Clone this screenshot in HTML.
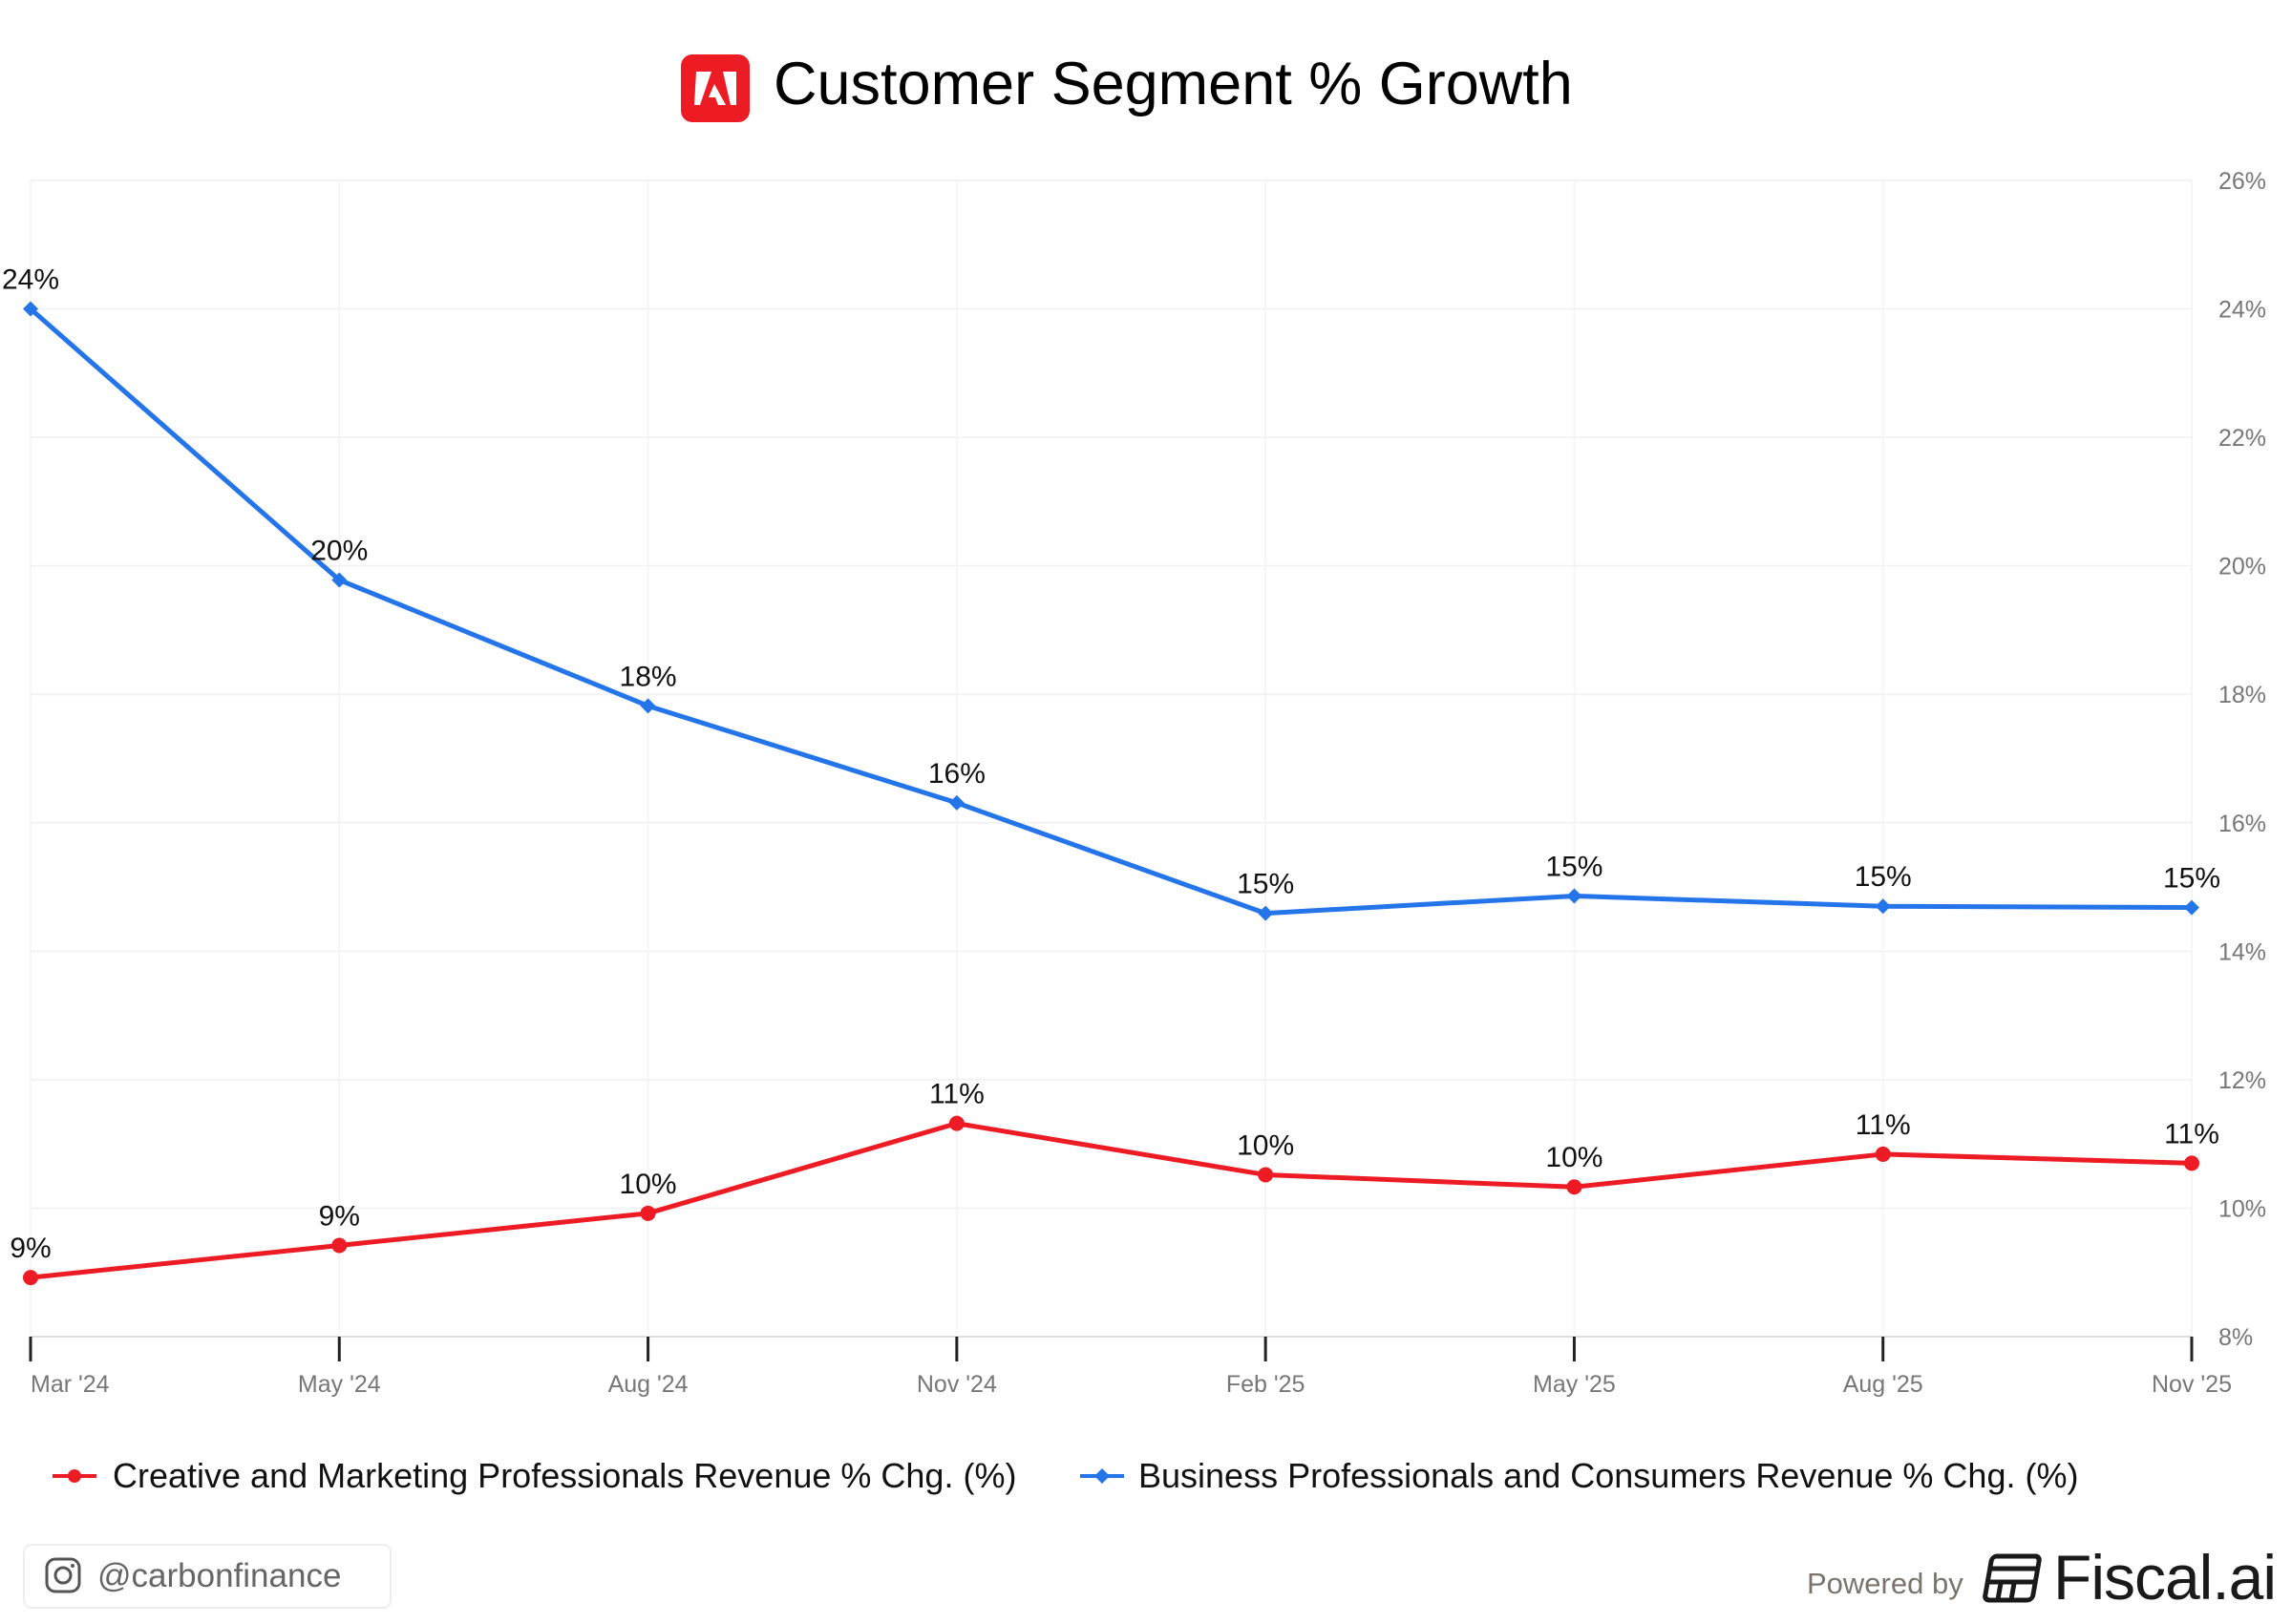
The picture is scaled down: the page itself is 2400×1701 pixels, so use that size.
<!DOCTYPE html>
<html><head><meta charset="utf-8"><style>
html,body{margin:0;padding:0;background:#fff;width:2400px;height:1701px;overflow:hidden;font-family:"Liberation Sans",sans-serif}
</style></head><body>
<svg id="chart" width="2400" height="1701" viewBox="0 0 2400 1701" xmlns="http://www.w3.org/2000/svg">
<g>
<rect x="713" y="57" width="72" height="71" rx="12" fill="#ED1C24"/>
<polygon points="729,75 745,75 733,110 727,110" fill="#fff"/>
<polygon points="757,75 771,75 771,110 765,110" fill="#fff"/>
<polygon points="748,88 760,110 752,110 749,102 742,102" fill="#fff"/>
<text x="810" y="109" font-size="63" fill="#000">Customer Segment % Growth</text>
</g>
<g id="grid"></g><g id="yaxis"></g><g id="xaxis"></g><g id="series"></g>
<g>
<g>
<line x1="55" y1="1546" x2="101" y2="1546" stroke="#ED1C24" stroke-width="4"/><circle cx="78" cy="1546" r="7" fill="#ED1C24"/>
<text x="118" y="1558" font-size="36" fill="#111">Creative and Marketing Professionals Revenue % Chg. (%)</text></g>
<g>
<line x1="1131" y1="1546" x2="1177" y2="1546" stroke="#2474EA" stroke-width="4"/><polygon points="1154,1538 1162,1546 1154,1554 1146,1546" fill="#2474EA"/>
<text x="1192" y="1558" font-size="36" fill="#111">Business Professionals and Consumers Revenue % Chg. (%)</text></g>
</g>
<g>
<rect x="25" y="1618" width="384" height="66" rx="8" fill="#fff" stroke="#eee" stroke-width="2"/>
<rect x="49" y="1633" width="34" height="34" rx="9" fill="none" stroke="#555" stroke-width="3"/>
<circle cx="66" cy="1650" r="8" fill="none" stroke="#555" stroke-width="3"/><circle cx="76" cy="1640" r="2" fill="#555"/>
<text x="102" y="1662" font-size="35" fill="#666">@carbonfinance</text></g>
<g>
<text x="1892" y="1669" font-size="31" fill="#7a746c">Powered by</text>
<g transform="translate(2078,1630) skewX(-10)" fill="none" stroke="#1a1a1a" stroke-width="5">
<rect x="8" y="0" width="50" height="46" rx="5"/>
<line x1="8" y1="13" x2="58" y2="13"/><line x1="8" y1="27" x2="58" y2="27"/>
<line x1="22" y1="27" x2="22" y2="46"/><line x1="36" y1="27" x2="36" y2="46"/>
</g>
<text x="2150" y="1675" font-size="66" fill="#1a1a1a" letter-spacing="-1">Fiscal.ai</text></g>
</svg>
<script>
const categories=["Mar '24","May '24","Aug '24","Nov '24","Feb '25","May '25","Aug '25","Nov '25"];
const creative=[8.92,9.42,9.92,11.32,10.52,10.33,10.84,10.70];
const business=[24.0,19.78,17.82,16.31,14.59,14.86,14.70,14.68];
const creativeLabels=["9%","9%","10%","11%","10%","10%","11%","11%"];
const businessLabels=["24%","20%","18%","16%","15%","15%","15%","15%"];
const yTicks=[8,10,12,14,16,18,20,22,24,26];
const NS="http://www.w3.org/2000/svg";
const X0=32,X1=2295,YT=189,YB=1400,YMIN=8,YMAX=26;
const xs=i=>X0+(X1-X0)*i/(categories.length-1);
const ys=v=>YB-(v-YMIN)/(YMAX-YMIN)*(YB-YT);
function mk(tag,attrs,parent){const e=document.createElementNS(NS,tag);for(const k in attrs)e.setAttribute(k,attrs[k]);parent.appendChild(e);return e;}
const grid=document.getElementById('grid'),ya=document.getElementById('yaxis'),xa=document.getElementById('xaxis'),se=document.getElementById('series');
yTicks.forEach(t=>{
const l=mk('line',{x1:X0,x2:X1,y1:ys(t),y2:ys(t),stroke:t===YMIN?'#ddd':'#f3f3f3','stroke-width':2},grid);


const tx=mk('text',{x:2323,y:ys(t)+9,'font-size':25,fill:'#777'},ya);tx.textContent=t+'%';


});
categories.forEach((c,i)=>{
const x=xs(i);
const g=mk('line',{x1:x,x2:x,y1:YT,y2:YB,stroke:'#f5f5f5','stroke-width':2},grid);


const tk=mk('line',{x1:x,x2:x,y1:YB,y2:YB+26,stroke:'#222','stroke-width':3},xa);


const anchor=i===0?'start':'middle';
const tx=mk('text',{x:x,y:1458,'font-size':25,fill:'#777','text-anchor':anchor},xa);
tx.textContent=c;


});
function series(vals,labels,color,name,diamond){
const g=mk('g',{},se);


const p=mk('polyline',{points:vals.map((v,i)=>xs(i)+','+ys(v)).join(' '),fill:'none',stroke:color,'stroke-width':5,'stroke-linejoin':'round'},g);


vals.forEach((v,i)=>{
const x=xs(i),y=ys(v);
const m=diamond?mk('polygon',{points:`${x},${y-8} ${x+8},${y} ${x},${y+8} ${x-8},${y}`,fill:color},g):mk('circle',{cx:x,cy:y,r:8,fill:color},g);


const t=mk('text',{x:x,y:y-21,'font-size':30,fill:'#111','text-anchor':'middle'},g);t.textContent=labels[i];


});
}
series(business,businessLabels,'#2474EA','business-series',true);
series(creative,creativeLabels,'#ED1C24','creative-series',false);
</script>
</body></html>
